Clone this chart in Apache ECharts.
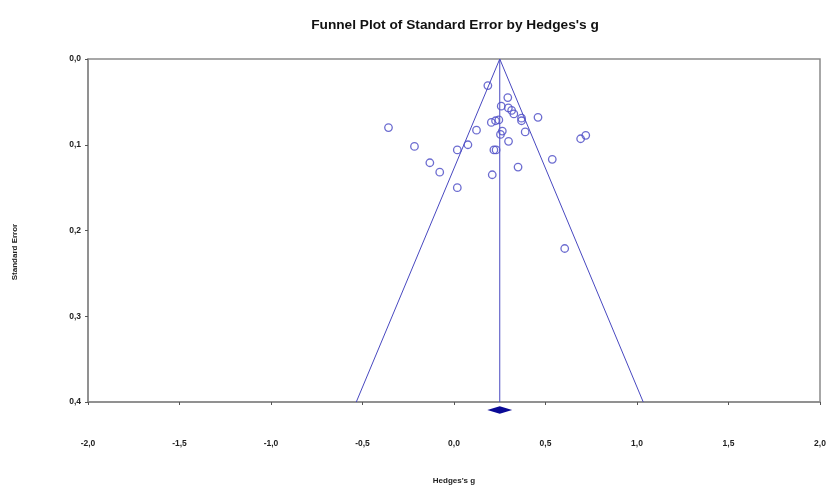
<!DOCTYPE html>
<html>
<head>
<meta charset="utf-8">
<script src="https://cdn.jsdelivr.net/npm/echarts@6/dist/echarts.min.js"></script>
<style>
html,body{margin:0;padding:0;background:#fff;overflow:hidden;}
#chart{width:826px;height:486px;}
</style>
</head>
<body>
<div id="chart"></div>
<script>
// Study effect sizes (Hedges's g) and standard errors
var studyG  = [0.185, 0.294, 0.258, 0.297, 0.315, 0.327, 0.369, 0.369, 0.459, 0.204,
               0.227, 0.245, 0.123, 0.264, 0.254, 0.389, 0.298, -0.358, -0.216, -0.132,
               -0.078, 0.018, 0.076, 0.018, 0.692, 0.720, 0.218, 0.230, 0.537, 0.350,
               0.209, 0.605];
var studySE = [0.031, 0.045, 0.055, 0.057, 0.060, 0.064, 0.069, 0.072, 0.068, 0.074,
               0.072, 0.071, 0.083, 0.084, 0.088, 0.085, 0.096, 0.080, 0.102, 0.121,
               0.132, 0.106, 0.100, 0.150, 0.093, 0.089, 0.106, 0.106, 0.117, 0.126,
               0.135, 0.221];
// Summary effect and its confidence interval
var summaryG = 0.25;
var summaryLow = 0.182;
var summaryHigh = 0.318;
// Axis ranges / ticks
var xTicks = [-2.0, -1.5, -1.0, -0.5, 0.0, 0.5, 1.0, 1.5, 2.0];
var yTicks = [0.0, 0.1, 0.2, 0.3, 0.4];
var seMax = 0.4;

var points = studyG.map(function (g, i) { return [g, studySE[i]]; });
var funnel = [[summaryG - 1.96 * seMax, seMax], [summaryG, 0], [summaryG + 1.96 * seMax, seMax]];
var midLine = [[summaryG, 0], [summaryG, seMax]];

function fmt(v) { return v.toFixed(1).replace('.', ','); }

var FONT = 'Liberation Sans';
var chart = echarts.init(document.getElementById('chart'), null, {renderer: 'canvas'});
chart.setOption({
  animation: false,
  backgroundColor: '#ffffff',
  title: {
    text: "Funnel Plot of Standard Error by Hedges's g",
    left: 450, top: 13, textAlign: 'center',
    textStyle: {fontFamily: FONT, fontSize: 13.7, fontWeight: 'bold', color: '#111'}
  },
  grid: {left: 88, right: 6, top: 59, bottom: 84, show: true, containLabel: false,
         outerBoundsMode: 'none',
         borderColor: '#8a8a8a', borderWidth: 1.5, backgroundColor: 'transparent'},
  xAxis: {
    type: 'value', min: xTicks[0], max: xTicks[xTicks.length - 1], interval: 0.5,
    name: "Hedges's g", nameLocation: 'middle', nameGap: 75,
    nameTextStyle: {fontFamily: FONT, fontSize: 8, fontWeight: 'bold', color: '#222'},
    axisLine: {show: true, onZero: false, lineStyle: {color: '#8a8a8a', width: 1.5}},
    axisTick: {show: true, length: 3, lineStyle: {color: '#555'}},
    splitLine: {show: false},
    axisLabel: {formatter: fmt, margin: 37, fontFamily: FONT, fontSize: 8.5,
                fontWeight: 'bold', color: '#222', showMinLabel: true, showMaxLabel: true}
  },
  yAxis: {
    type: 'value', inverse: true, min: yTicks[0], max: yTicks[yTicks.length - 1], interval: 0.1,
    axisLine: {show: true, onZero: false, lineStyle: {color: '#8a8a8a', width: 1.5}},
    axisTick: {show: true, length: 3, lineStyle: {color: '#555'}},
    splitLine: {show: false},
    axisLabel: {formatter: fmt, margin: 7, fontFamily: FONT, fontSize: 8.5,
                fontWeight: 'bold', color: '#222'}
  },
  graphic: [{
    type: 'text', x: 15, y: 252, rotation: Math.PI / 2,
    style: {text: 'Standard Error', fontFamily: FONT, fontSize: 8, fontWeight: 'bold',
            fill: '#222', textAlign: 'center', textVerticalAlign: 'middle'}
  }],
  series: [
    {type: 'line', data: funnel, symbol: 'none', silent: true,
     lineStyle: {color: '#4848c0', width: 1}, z: 2},
    {type: 'line', data: midLine, symbol: 'none', silent: true,
     lineStyle: {color: '#4848c0', width: 1}, z: 2},
    {type: 'scatter', data: points, symbol: 'circle', symbolSize: 7.5,
     itemStyle: {color: 'transparent', borderColor: '#5252c8', borderWidth: 1.3, opacity: 0.85}, z: 3},
    {type: 'custom', clip: false, data: [[summaryG, summaryLow, summaryHigh]],
     renderItem: function (params, api) {
       var c = api.coord([api.value(0), seMax]);
       var l = api.coord([api.value(1), seMax]);
       var r = api.coord([api.value(2), seMax]);
       var cy = c[1] + 8, h = 3.8;
       return {type: 'polygon', shape: {points: [[l[0], cy], [c[0], cy - h], [r[0], cy], [c[0], cy + h]]},
               style: {fill: '#0a0a96', stroke: null}};
     }, z: 4}
  ]
});
</script>
</body>
</html>
